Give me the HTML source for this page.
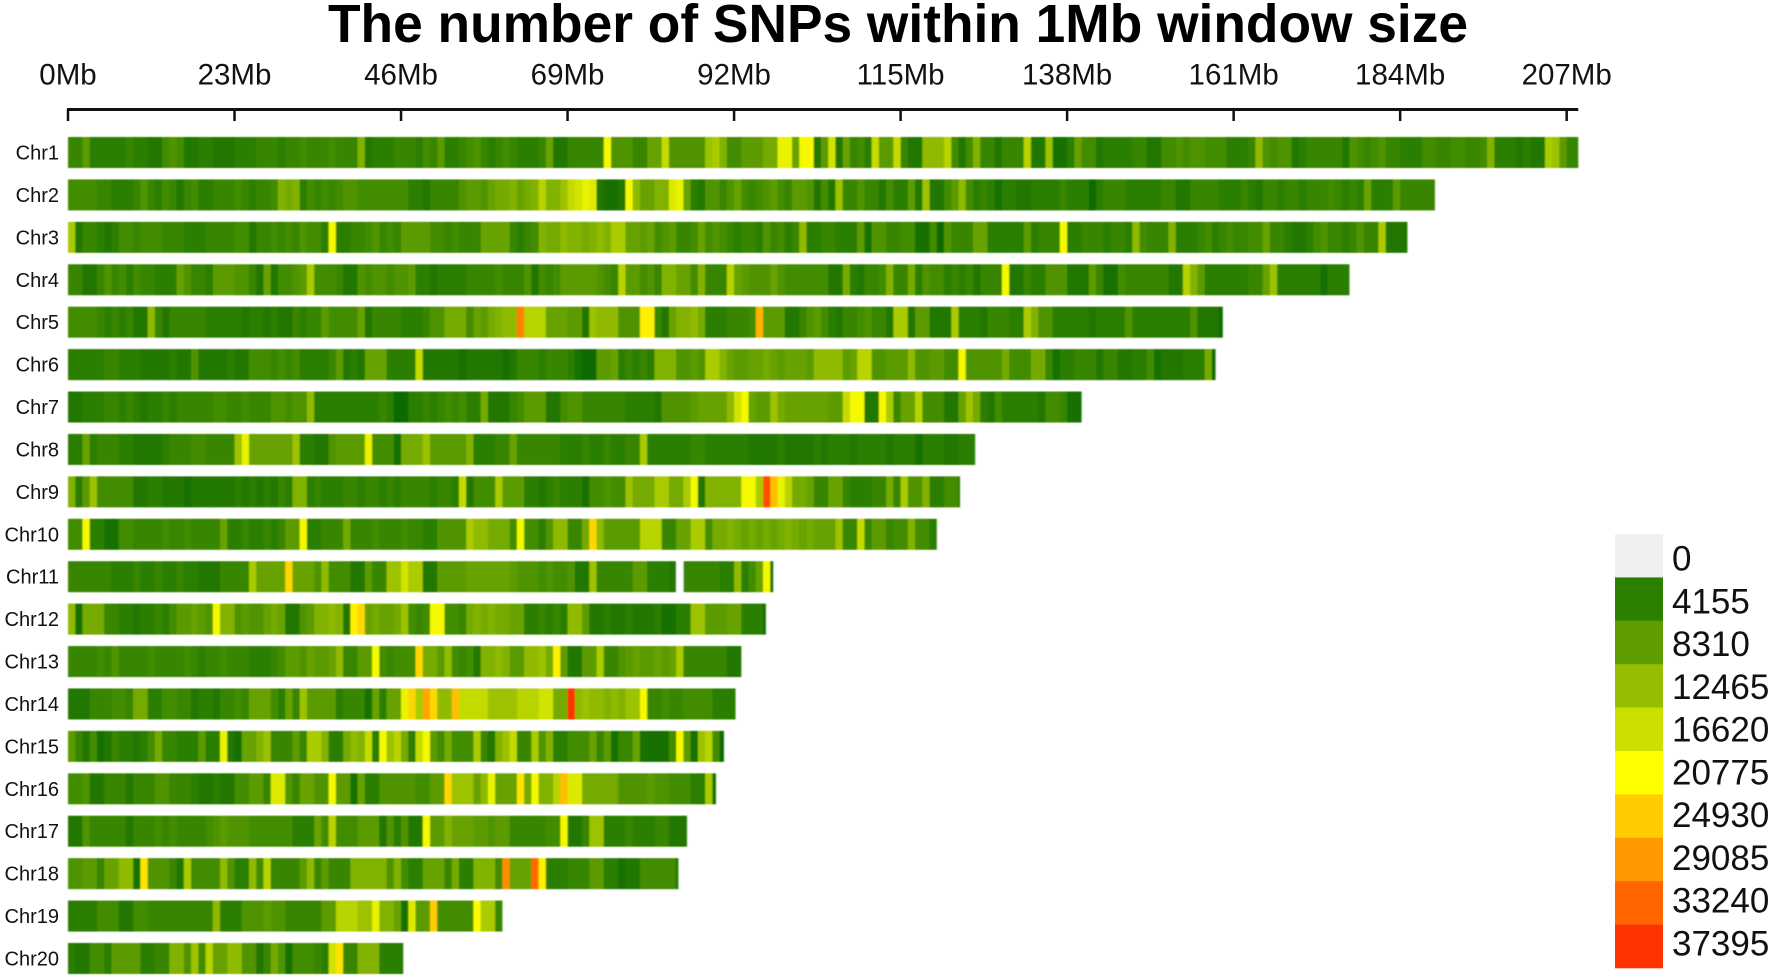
<!DOCTYPE html>
<html lang="en">
<head>
<meta charset="utf-8">
<title>The number of SNPs within 1Mb window size</title>
<style>
html,body{margin:0;padding:0;background:#fff;width:1772px;height:977px;overflow:hidden}
svg{display:block;font-family:"Liberation Sans",Arial,sans-serif}
</style>
</head>
<body>
<svg id="chart" xmlns="http://www.w3.org/2000/svg" width="1772" height="977" viewBox="0 0 1772 977">
  <defs>
    <filter id="soft" x="-2%" y="-20%" width="104%" height="140%"><feGaussianBlur stdDeviation="0.9 0.45"/></filter>
  </defs>
  <rect width="1772" height="977" fill="#fff"/>
  <text x="328" y="42" font-size="54" font-weight="700" fill="#000" textLength="1140" lengthAdjust="spacingAndGlyphs">The number of SNPs within 1Mb window size</text>
  <g id="axis"></g>
  <g id="rows"></g>
  <g id="legend"></g>
</svg>
<script>
// SNP counts per 1 Mb window, in thousands.
const chr1 = [5,5,8,4,4,4,4,4,5,4, 4,3,3,6,7,6,3,3,4,4, 3,3,3,4,4,4,5,5,5,4, 5,5,6,5,5,5,6,5,5,5, 11,3,4,4,4,5,5,5,4,6, 5,8,4,4,5,6,7,5,4,5, 6,5,4,4,4,5,9,3,3,5, 5,5,5,5,20,7,7,7,5,5, 9,9,16,7,7,7,7,7,13,14, 11,6,6,8,8,8,10,10,19,19, 9,20,20,3,8,17,3,9,5,6, 4,16,8,8,16,5,3,3,12,12, 12,15,6,3,6,11,5,5,3,5, 5,5,15,3,3,13,2,2,4,9, 6,6,3,4,4,4,4,5,5,3, 3,6,6,7,6,7,7,6,6,6, 4,4,4,5,12,7,6,7,7,3, 4,5,5,5,5,5,3,7,6,5, 6,7,5,5,4,4,4,6,6,5, 5,6,6,5,5,6,11,4,4,4, 3,4,3,3,14,13,8,5,5];
const chr2 = [6,6,6,6,5,5,4,4,4,5, 7,5,4,6,5,3,5,6,4,4, 5,5,5,6,5,4,5,5,6,11, 10,11,4,6,5,6,5,6,7,7, 6,6,6,6,6,6,6,4,4,3, 5,5,5,5,7,8,8,7,9,10, 10,11,9,10,11,15,11,11,13,16, 17,19,18,3,2,2,3,20,12,9, 9,11,11,18,19,9,4,3,7,7, 5,7,9,6,5,6,7,8,6,5, 8,8,7,3,6,3,13,5,5,7, 5,5,3,6,4,4,8,3,13,3, 3,6,8,12,6,4,5,4,2,4, 4,3,3,4,4,4,4,5,4,4, 4,1,4,5,5,5,4,4,4,4, 4,5,5,3,3,5,5,5,5,4, 4,4,5,4,3,5,5,4,5,5, 4,5,5,5,6,5,4,5,4,9, 4,4,4,8,5,5,5,5,5];
const chr3 = [14,3,5,5,4,3,4,6,6,5, 6,6,6,5,5,5,4,4,4,5, 5,5,5,6,6,3,5,5,6,5, 6,5,7,6,6,4,20,4,4,5, 5,6,7,5,6,5,8,8,8,8, 6,6,5,6,5,5,5,9,9,9, 9,5,4,5,6,11,10,10,12,11, 11,10,11,12,11,14,14,9,9,8, 9,6,7,8,5,5,6,9,6,7, 6,5,4,5,5,4,7,5,6,4, 5,12,4,4,5,5,4,4,4,8, 2,7,7,5,5,6,6,2,2,6, 1,7,5,5,5,9,9,4,4,4, 4,4,8,4,5,5,5,20,4,4, 5,5,5,4,5,5,4,12,6,5, 5,5,11,4,4,4,5,6,4,5, 6,5,5,6,6,9,5,5,4,3, 3,4,6,7,5,5,4,5,7,5, 5,14,3,3,3];
const chr4 = [5,5,3,3,5,7,5,6,4,6, 5,5,4,4,4,9,7,5,5,4, 8,8,8,7,7,5,3,9,3,6, 6,7,8,14,6,6,6,5,3,3, 7,6,7,7,6,7,7,8,4,4, 3,4,4,4,4,5,5,5,5,6, 5,5,5,7,3,6,5,6,8,8, 8,8,8,7,6,5,15,8,8,6, 7,5,11,11,9,9,6,11,5,5, 5,15,9,8,7,7,7,9,7,6, 6,6,6,6,6,3,3,10,4,3, 5,5,6,11,5,5,10,4,7,6, 6,4,5,4,5,3,5,5,5,20, 3,3,5,4,4,7,7,7,3,3, 3,8,5,2,2,6,5,5,5,5, 5,5,3,3,15,11,8,4,4,4, 4,4,4,5,5,9,13,4,4,4, 4,4,4,2,4,4,4];
const chr5 = [6,6,6,6,5,4,5,4,5,3, 3,12,5,3,5,5,5,5,5,4, 4,4,4,4,3,4,4,3,4,3, 3,5,4,5,5,8,6,6,6,6, 9,3,5,5,5,5,4,4,4,5, 7,7,10,10,10,6,9,8,10,11, 12,12,31,15,15,15,9,9,9,8, 8,3,13,12,12,12,7,7,7,22, 22,5,3,9,11,11,12,10,4,4, 4,5,5,5,6,27,8,8,8,3, 3,5,7,8,6,4,3,5,5,6, 7,5,5,3,14,14,3,8,8,3, 3,3,14,4,4,4,3,5,5,5, 4,4,14,11,7,7,4,4,4,4, 4,3,4,4,4,4,7,4,4,4, 4,4,4,4,4,7,3,3,3,1];
const chr6 = [4,4,4,4,4,5,5,4,4,4, 3,3,3,3,4,3,3,7,3,3, 3,3,4,3,3,6,6,6,5,6, 5,6,4,4,4,4,5,8,3,4, 3,9,9,9,4,4,4,4,16,3, 3,3,3,3,2,3,3,3,3,3, 2,3,5,5,5,4,5,5,5,4, 2,1,1,8,8,9,4,5,4,5, 4,11,11,11,7,7,8,7,14,14, 11,9,8,8,9,9,10,9,8,9, 9,9,8,12,12,12,12,8,9,15, 15,7,7,8,8,8,12,7,7,8, 8,6,6,20,7,7,7,7,7,10, 6,6,6,10,10,5,2,4,4,5, 5,5,3,5,5,3,3,4,4,6, 2,3,3,3,4,4,4,10,1];
const chr7 = [3,3,4,4,4,5,5,4,5,4, 3,4,4,5,4,5,5,5,5,5, 6,6,5,5,6,5,5,5,7,7, 6,7,7,12,4,4,4,4,4,4, 4,4,4,5,4,1,1,4,4,5, 4,5,6,5,6,4,4,10,3,3, 3,5,6,8,8,8,3,3,6,7, 7,5,5,5,5,5,5,4,4,4, 4,3,7,7,7,7,8,9,9,9, 9,12,17,20,9,8,8,13,10,9, 9,9,9,9,9,8,8,16,20,20, 3,3,20,14,5,9,9,15,6,6, 6,3,3,9,13,10,4,3,6,4, 4,4,4,4,3,6,6,5,2,2];
const chr8 = [4,4,9,4,5,5,5,4,4,3, 3,3,3,4,5,5,5,6,6,5, 5,5,5,13,19,9,9,9,9,9, 9,13,4,4,3,3,7,8,8,8, 8,19,6,6,6,2,10,10,10,13, 8,8,8,8,8,11,4,4,4,5, 5,9,5,5,5,5,5,5,4,4, 4,5,4,4,5,4,4,5,5,14, 4,4,4,4,4,4,5,5,4,4, 4,4,4,4,3,3,3,3,4,3, 3,3,3,4,3,4,4,4,3,4, 4,4,4,3,4,4,4,2,4,4, 4,3,3,4,4,4];
const chr9 = [11,4,8,13,6,6,6,6,6,3, 3,4,4,3,3,3,2,3,3,3, 3,3,3,4,3,4,3,4,3,5, 4,11,11,4,5,4,4,4,5,5, 4,5,5,4,5,4,5,5,5,5, 4,5,5,4,16,3,6,6,6,14, 8,8,8,4,4,3,4,5,4,4, 4,2,6,6,7,6,6,13,10,10, 10,14,14,10,10,14,20,3,11,11, 11,11,11,20,20,14,35,26,19,15, 10,10,9,5,5,9,9,5,4,4, 4,5,5,10,5,14,7,7,11,4, 4,6,6,2];
const chr10 = [6,6,20,4,4,2,2,6,6,5, 5,5,5,6,5,5,6,5,5,5, 5,9,4,4,5,4,4,5,4,5, 8,8,20,4,4,5,5,5,10,5, 5,5,6,5,5,5,6,5,5,4, 4,7,7,7,7,14,12,12,10,10, 10,6,20,6,6,4,7,12,12,5, 5,10,24,12,8,8,8,8,8,15, 15,15,5,5,9,9,14,14,6,10, 10,11,10,9,10,9,10,9,10,11, 10,9,10,9,9,9,13,5,5,16, 5,8,8,5,6,6,11,6,6,4];
const chr11 = [5,5,5,5,5,5,4,4,4,5, 4,4,5,4,4,5,4,4,3,3, 3,5,5,5,5,14,9,9,9,9, 24,9,9,9,7,12,6,6,6,3, 3,8,5,5,13,13,17,14,14,3, 3,8,8,8,8,9,9,9,9,9, 9,8,7,7,7,6,7,6,6,7, 3,3,13,5,5,5,5,5,8,8, 4,4,4,3,0,5,5,5,5,5, 4,4,12,4,6,9,20,1];
const chr12 = [12,2,10,10,10,5,5,4,4,3, 4,4,5,4,6,8,8,9,8,7, 20,11,11,7,8,7,7,9,10,9, 3,3,7,8,11,11,12,11,3,22, 24,9,10,9,9,10,13,6,5,6, 20,20,6,6,5,10,11,10,11,10, 10,9,9,4,4,5,4,5,4,12, 12,8,3,3,4,3,3,4,3,3, 3,4,2,2,4,4,13,13,8,8, 8,9,9,4,4,4,2];
const chr13 = [5,5,5,5,6,5,7,5,5,5, 5,6,5,5,5,5,6,5,4,5, 5,6,5,5,5,4,4,4,5,6, 8,8,7,9,8,8,9,12,5,5, 8,8,20,6,5,6,6,6,24,10, 10,8,12,6,5,6,3,11,11,12, 11,8,8,12,12,13,10,22,8,3, 3,8,8,14,5,5,7,8,9,8, 8,9,8,9,14,5,5,5,5,5, 5,3,3];
const chr14 = [3,3,3,5,5,5,6,6,5,10, 10,4,4,6,6,5,5,3,4,4, 3,5,5,6,5,9,9,9,6,4, 9,5,13,8,8,8,8,4,5,5, 5,2,9,4,9,9,19,24,14,28, 24,12,12,26,16,16,16,16,13,13, 13,13,15,15,15,17,17,10,10,38, 12,13,12,12,11,12,11,13,13,20, 5,5,6,5,5,6,6,6,6,4, 4,4,4];
const chr15 = [8,5,3,6,2,3,5,4,4,3, 4,6,10,5,5,4,4,4,8,4, 4,19,3,2,9,9,11,13,5,5, 5,8,5,14,14,11,4,4,10,12, 11,16,4,20,13,15,10,4,16,20, 8,6,10,6,6,6,14,5,3,11, 13,16,5,5,14,7,11,4,4,6, 6,6,9,5,8,2,5,5,9,2, 2,2,2,6,20,8,2,13,15,6, 1];
const chr16 = [6,6,7,3,3,5,5,5,3,5, 5,5,7,7,5,5,5,4,3,3, 4,3,3,6,6,8,8,5,18,18, 7,5,9,9,7,7,20,8,8,2, 9,4,4,7,7,7,7,7,6,6, 8,8,24,13,13,13,9,12,19,9, 9,9,23,10,20,11,11,15,26,18, 18,10,10,10,10,10,7,7,7,7, 8,7,7,6,6,6,4,4,14,2];
const chr17 = [3,3,7,5,5,5,5,5,3,5, 5,5,6,5,6,5,5,5,5,6, 7,8,7,7,7,6,6,6,6,6, 6,4,4,4,9,6,15,6,6,6, 8,8,8,3,7,4,7,3,3,20, 8,8,11,9,9,9,8,8,7,8, 8,5,5,5,5,5,6,6,20,3, 3,5,13,13,4,4,4,5,4,4, 4,5,5,3,3,3];
const chr18 = [7,7,8,8,5,9,9,12,12,2, 23,7,7,7,5,3,14,6,6,6, 6,12,7,4,4,12,6,15,5,5, 5,5,8,12,5,8,5,5,5,11, 11,11,11,11,7,11,6,4,4,9, 9,9,5,10,4,4,11,11,11,6, 30,9,9,9,33,22,4,4,4,5, 5,5,8,8,4,4,2,3,3,6, 6,6,6,6,2];
const chr19 = [4,4,4,4,6,6,6,3,3,6, 6,5,5,5,5,5,5,5,5,5, 12,4,4,4,7,7,7,8,7,7, 5,5,5,5,5,8,8,15,15,15, 13,13,19,11,11,9,2,18,8,8, 25,6,6,6,6,6,21,14,14,5];
const chr20 = [4,3,3,6,6,4,8,8,8,8, 4,4,5,5,11,11,7,13,6,15, 9,9,12,12,7,7,3,5,10,7, 2,6,6,6,5,4,17,23,5,5, 11,11,11,4,4,4,3];

const chromosomeNames = ["Chr1","Chr2","Chr3","Chr4","Chr5","Chr6","Chr7","Chr8","Chr9","Chr10","Chr11","Chr12","Chr13","Chr14","Chr15","Chr16","Chr17","Chr18","Chr19","Chr20"];
const chromosomeValues = [chr1,chr2,chr3,chr4,chr5,chr6,chr7,chr8,chr9,chr10,chr11,chr12,chr13,chr14,chr15,chr16,chr17,chr18,chr19,chr20];
const chromosomeLengthsMb = [208.6,188.8,185.1,177,159.5,158.5,140,125.3,123.2,120,97.4,96.4,93,92.2,90.6,89.5,85.5,84.3,60,46.3];
const tickValuesMb = [0,23,46,69,92,115,138,161,184,207];
const tickLabels = ["0Mb","23Mb","46Mb","69Mb","92Mb","115Mb","138Mb","161Mb","184Mb","207Mb"];
const legendValues = [0,4155,8310,12465,16620,20775,24930,29085,33240,37395];
const legendColors = ["#f0f0f0","#2d7f00","#5f9d00","#95be00","#cce000","#ffff00","#ffcc00","#ff9900","#ff6600","#ff3300"];

const NS = "http://www.w3.org/2000/svg";
const LOW_GREEN = [0,100,0];
const plot = {x0:68, pxPerMb:7.24, rowTop:137, rowStep:42.42, rowHeight:31};
const xScale = mb => plot.x0 + plot.pxPerMb * mb;
const yScale = i => plot.rowTop + plot.rowStep * i;

function hexRgb(h){return [1,3,5].map(k=>parseInt(h.slice(k,k+2),16));}
function colorFor(thousands){
  const v = thousands * 1000;
  if (v <= 0) return "#ffffff";
  let a, b, t;
  if (v < legendValues[1]) { a = LOW_GREEN; b = hexRgb(legendColors[1]); t = v / legendValues[1]; }
  else {
    let k = 1;
    while (k < legendValues.length - 1 && v > legendValues[k + 1]) k++;
    a = hexRgb(legendColors[k]);
    b = hexRgb(legendColors[Math.min(k + 1, legendColors.length - 1)]);
    t = Math.min(1, (v - legendValues[k]) / (legendValues[1] * 1));
  }
  const c = a.map((p, j) => Math.round(p + (b[j] - p) * t));
  return "rgb(" + c.join(",") + ")";
}
function make(tag, attrs, parent){
  const el = document.createElementNS(NS, tag);
  for (const k in attrs) el.setAttribute(k, attrs[k]);
  parent.appendChild(el);
  return el;
}

const axisG = document.getElementById("axis");
const axisLine = make("line", {x1:xScale(0)-1, x2:xScale(chromosomeLengthsMb[0]), y1:109.5, y2:109.5, stroke:"#111", "stroke-width":3}, axisG);


tickValuesMb.forEach((mb, i) => {
  const tick = make("line", {x1:xScale(mb), x2:xScale(mb), y1:109, y2:121, stroke:"#111", "stroke-width":2.5}, axisG);
  
  
  const label = make("text", {x:xScale(mb), y:84.5, "font-size":29.5, "text-anchor":"middle", fill:"#111"}, axisG);
  
  
  label.textContent = tickLabels[i];
});

const rowsG = document.getElementById("rows");
chromosomeValues.forEach((values, r) => {
  const name = make("text", {x:59, y:yScale(r)+22.5, "font-size":20, "text-anchor":"end", fill:"#111"}, rowsG);
  
  
  name.textContent = chromosomeNames[r];
  const row = make("g", {filter:"url(#soft)"}, rowsG);
  
  
  const len = chromosomeLengthsMb[r];
  values.forEach((v, i) => {
    const x1 = xScale(i);
    const x2 = xScale(Math.min(i + 1, len));
    if (x2 <= x1) return;
    const overlap = i < values.length - 1 ? 0.4 : 0;
    const bin = make("rect", {x:x1, y:yScale(r), width:x2 - x1 + overlap, height:plot.rowHeight, fill:colorFor(v)}, row);
    
    
  });
});

const legendG = document.getElementById("legend");
const legendTop = 534, legendStep = 43.4;
legendValues.forEach((val, i) => {
  const cell = make("rect", {x:1615, y:legendTop + legendStep * i, width:48, height:legendStep + 0.3, fill:legendColors[i]}, legendG);
  
  
  const txt = make("text", {x:1672, y:570.5 + 42.75 * i, "font-size":35, fill:"#111"}, legendG);
  
  
  txt.textContent = String(val);
});
</script>
</body>
</html>
